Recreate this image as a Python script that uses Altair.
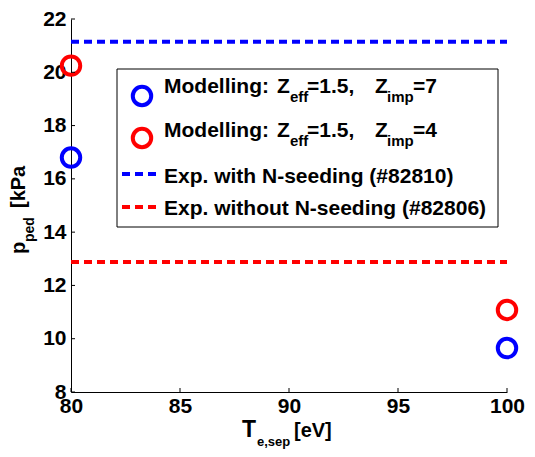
import altair as alt
import pandas as pd

# ---- data ----
te_sep = [80, 100]                     # T_e,sep [eV]
p_zimp7 = [16.8, 9.65]                 # Modelling Zeff=1.5, Zimp=7 (blue)
p_zimp4 = [20.25, 11.08]               # Modelling Zeff=1.5, Zimp=4 (red)
exp_with_n = 21.15                     # Exp. with N-seeding (#82810)
exp_without_n = 12.88                  # Exp. without N-seeding (#82806)
x_ticks = [80, 85, 90, 95, 100]
y_ticks = [8, 10, 12, 14, 16, 18, 20, 22]

FONT = "Liberation Sans"
BLUE = "#0000ff"
RED = "#ff0000"
PAD_L, PAD_T, PAD_R, PAD_B = 63, 11, 18, 57
W, H = 436, 373
OX, OY = 8 + PAD_L, 8 + PAD_T   # page position of the plot origin


def px(x):
    return x - OX


def py(y):
    return y - OY


pts = pd.DataFrame({"te": te_sep + te_sep,
                    "p": p_zimp7 + p_zimp4,
                    "series": ["z7"] * 2 + ["z4"] * 2})
lines = pd.DataFrame({"x0": [te_sep[0]] * 2, "x1": [te_sep[-1]] * 2,
                      "p": [exp_with_n, exp_without_n], "series": ["with", "without"]})

xs = alt.Scale(domain=[80, 100], nice=False, zero=False)
ys = alt.Scale(domain=[8, 22], nice=False, zero=False)

xaxis = alt.Axis(values=x_ticks, ticks=False, grid=False, domainColor="black", domainWidth=1,
                 labelFont=FONT, labelFontWeight="bold", labelFontSize=21, labelColor="black",
                 labelPadding=3, title=None, labelFlush=False, labelOverlap=False)
yaxis = alt.Axis(values=y_ticks, ticks=False, grid=False, domainColor="black", domainWidth=1,
                 labelFont=FONT, labelFontWeight="bold", labelFontSize=21, labelColor="black",
                 labelPadding=5, title=None, labelFlush=False, labelOverlap=False)

base_lines = alt.Chart(lines).mark_rule(strokeWidth=4, strokeDash=[8, 5], strokeCap="butt").encode(
    x=alt.X("x0:Q", scale=xs, axis=xaxis),
    x2="x1:Q",
    y=alt.Y("p:Q", scale=ys, axis=yaxis),
    color=alt.Color("series:N", scale=alt.Scale(domain=["with", "without"], range=[BLUE, RED]), legend=None),
)

points = alt.Chart(pts).mark_point(shape="circle", filled=False, strokeWidth=4, size=340, opacity=1).encode(
    x=alt.X("te:Q", scale=xs),
    y=alt.Y("p:Q", scale=ys),
    color=alt.Color("series:N", scale=alt.Scale(domain=["z7", "z4"], range=[BLUE, RED]), legend=None),
)

yt = alt.Chart(pd.DataFrame({"v": y_ticks})).mark_rule(color="black", strokeWidth=1).encode(
    y=alt.Y("v:Q", scale=ys), x=alt.value(0), x2=alt.value(4))
xt = alt.Chart(pd.DataFrame({"v": x_ticks})).mark_rule(color="black", strokeWidth=1).encode(
    x=alt.X("v:Q", scale=xs), y=alt.value(H), y2=alt.value(H - 4))

one = pd.DataFrame({"a": [0]})


def txt(s, x, y, size, angle=0):
    return alt.Chart(one).mark_text(font=FONT, fontWeight="bold", fontSize=size, align="left",
                                    baseline="alphabetic", angle=angle, color="black").encode(
        x=alt.value(px(x)), y=alt.value(py(y)), text=alt.value(s))


# legend box
box = alt.Chart(one).mark_rect(fill="white", stroke="black", strokeWidth=1).encode(
    x=alt.value(px(117)), x2=alt.value(px(498)), y=alt.value(py(69)), y2=alt.value(py(227)))

leg_pts = [alt.Chart(one).mark_point(shape="circle", filled=False, strokeWidth=4, size=340,
                                     opacity=1, color=c).encode(x=alt.value(px(142)), y=alt.value(py(yy)))
           for c, yy in [(BLUE, 96), (RED, 138)]]
leg_lines = [alt.Chart(one).mark_rule(strokeWidth=4, strokeDash=[8, 5], strokeCap="butt", color=c).encode(
    x=alt.value(px(122)), x2=alt.value(px(160)), y=alt.value(py(yy))) for c, yy in [(BLUE, 174), (RED, 207)]]

leg_txt = []
for base, zimp in [(93, "=7"), (137, "=4")]:
    leg_txt += [
        txt("Modelling:", 164, base, 21),
        txt("Z", 277, base, 21),
        txt("eff", 290, base + 9, 15),
        txt("=1.5,", 307, base, 21),
        txt("Z", 375, base, 21),
        txt("imp", 387, base + 9, 15),
        txt(zimp, 413, base, 21),
    ]
leg_txt += [
    txt("Exp. with N-seeding (#82810)", 164, 183, 21),
    txt("Exp. without N-seeding (#82806)", 164, 215, 21),
]

titles = [
    txt("T", 242, 437, 23),
    txt("e,sep", 257, 446, 13),
    txt("[eV]", 294, 437, 20),
    txt("p", 25, 254, 20, angle=270),
    txt("ped", 34, 242, 14, angle=270),
    txt("[kPa", 25, 208, 20, angle=270),
]

chart = alt.layer(base_lines, points, yt, xt, box, *leg_pts, *leg_lines, *leg_txt, *titles).properties(
    width=W, height=H,
    autosize=alt.AutoSizeParams(type="none"),
    padding={"left": PAD_L, "top": PAD_T, "right": PAD_R, "bottom": PAD_B},
    background="white",
).configure_view(stroke=None)

chart.save("out.html", embed_options={"renderer": "svg", "actions": False})
